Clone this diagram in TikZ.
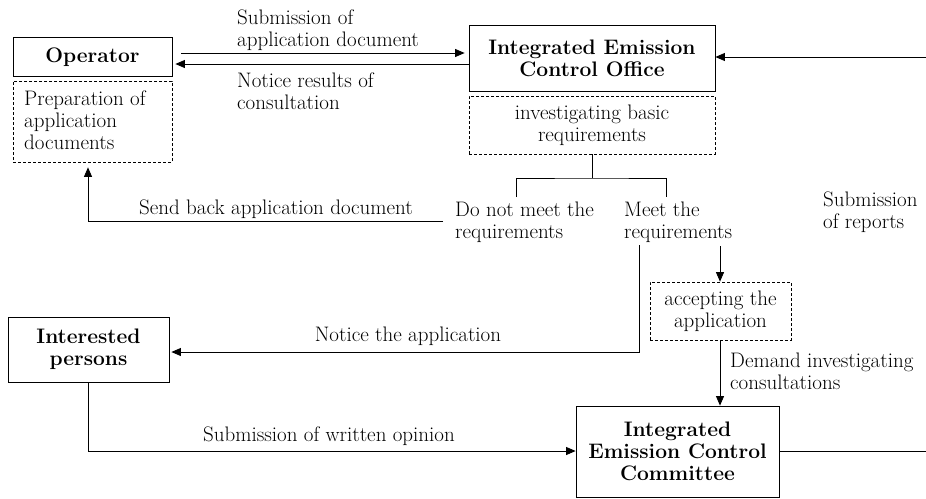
\documentclass[tikz,border=0pt]{standalone}
\usetikzlibrary{arrows.meta}
\begin{document}
\begin{tikzpicture}[x=1pt,y=-1pt,
  every node/.style={font=\fontsize{21}{22}\selectfont},
  solidbox/.style={draw, line width=0.8pt, inner sep=0pt, align=center, font=\fontsize{21}{22}\selectfont\bfseries},
  dashbox/.style={draw, line width=0.7pt, dash pattern=on 3pt off 2pt, inner sep=0pt, align=center},
  lbl/.style={inner sep=0pt, align=left, anchor=north west},
  flow/.style={line width=0.8pt, -{Triangle[length=9.5pt,width=8pt]}},
  plain/.style={line width=0.8pt}]
\useasboundingbox (0,0) rectangle (926,498);

% boxes
\node[solidbox, minimum width=159pt, minimum height=39pt] (op) at (92.5,57) {Operator};
\node[dashbox, minimum width=159pt, minimum height=81pt] (prep) at (92.5,121.5) {};
\node[lbl] (preptext) at (24,91) {Preparation of\\application\\documents};

\node[solidbox, minimum width=246pt, minimum height=66pt] (ieco) at (592,58) {Integrated Emission\\Control Office};
\node[dashbox, minimum width=246pt, minimum height=58pt] (inv) at (592,125) {investigating basic\\requirements};

\node[solidbox, minimum width=161pt, minimum height=65pt] (ip) at (88.5,349.5) {Interested\\persons};
\node[dashbox, minimum width=141pt, minimum height=58pt] (acc) at (720.5,311) {accepting the\\application};
\node[solidbox, minimum width=203pt, minimum height=91pt] (iecc) at (677.5,451.5) {Integrated\\Emission Control\\Committee};

% outcome labels
\node[lbl] (nomeet) at (455,202) {Do not meet the\\requirements};
\node[lbl] (meet) at (624,202) {Meet the\\requirements};
\node[lbl] (reports) at (823,192) {Submission\\of reports};

% connector labels
\node[lbl] (l1) at (237,10) {Submission of\\application document};
\node[lbl] (l2) at (237,73) {Notice results of\\consultation};
\node[anchor=base, inner sep=0pt] (l3) at (276,214) {Send back application document};
\node[anchor=base, inner sep=0pt] (l4) at (408,341) {Notice the application};
\node[lbl] (l5) at (730,353) {Demand investigating\\consultations};
\node[anchor=base, inner sep=0pt] (l6) at (329,441) {Submission of written opinion};

% connector end points
\coordinate (tj) at (592,178);
\coordinate (nmtop) at (516,197);
\coordinate (mtop) at (666,197);
\coordinate (sbstart) at (443,221);
\coordinate (sbcorner) at (88,221);
\coordinate (nastart) at (639,245);
\coordinate (nacorner) at (639,352);
\coordinate (acctop) at (720,246);
\coordinate (rin) at (926,57);
\coordinate (rout) at (926,451);
\coordinate (opcorner) at (88,451);

% connectors
\draw[flow, shorten >=4pt] (181,53) -- (ieco.west |- 0,53);
\draw[flow, shorten >=3pt] (ieco.west |- 0,64) -- (op.east |- 0,64);
\draw[flow] (rin) -- (ieco.east |- rin);

\draw[plain] (inv.south) -- (tj);
\draw[plain] (nmtop) |- (tj) -| (mtop);

\draw[flow, shorten >=5pt] (sbstart) -- (sbcorner) -- (prep.south -| sbcorner);
\draw[flow, shorten >=2pt] (nastart) -- (nacorner) -- (ip.east |- nacorner);
\draw[flow] (acctop) -- (acc.north -| acctop);
\draw[flow] (acc.south -| acctop) -- (iecc.north -| acctop);
\draw[flow] (ip.south -| opcorner) -- (opcorner) -- (iecc.west |- opcorner);
\draw[plain] (iecc.east |- rout) -- (rout);
\end{tikzpicture}
\end{document}
